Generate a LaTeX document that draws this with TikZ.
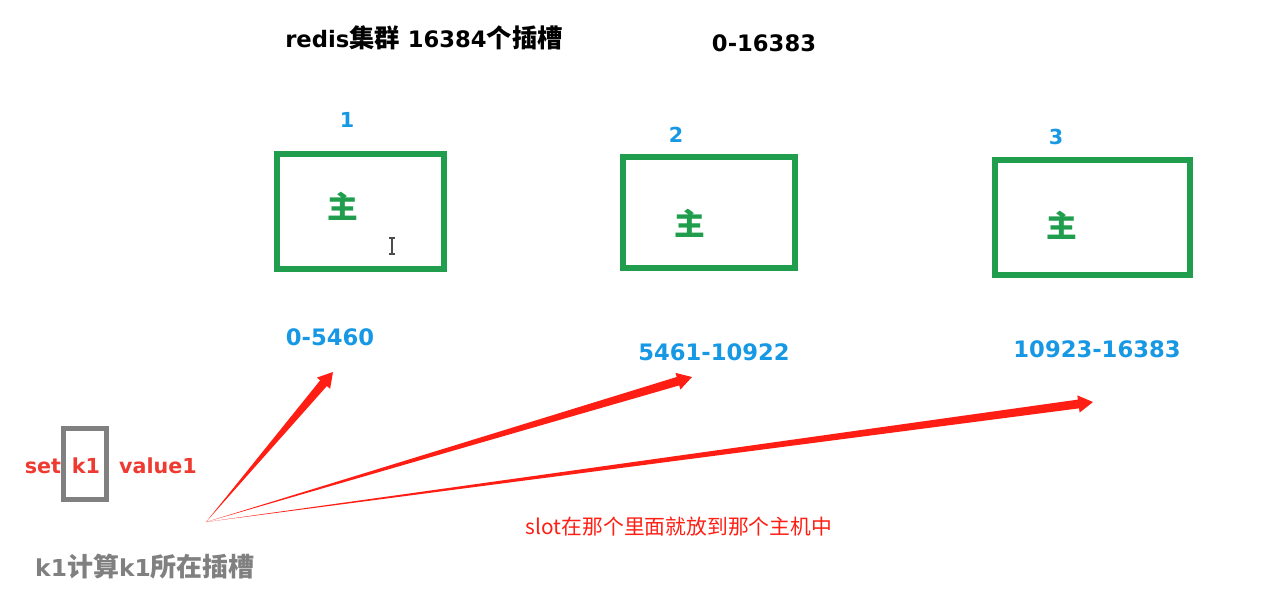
\documentclass[tikz,border=0pt]{standalone}
\usepackage{fontspec}
\setmainfont{DejaVu Sans}
\newfontfamily\cjk{Noto Sans CJK SC}
\usetikzlibrary{calc}

\definecolor{slotblue}{RGB}{22,152,228}
\definecolor{mastergreen}{RGB}{32,158,78}
\definecolor{keyred}{RGB}{238,58,48}
\definecolor{arrowred}{RGB}{255,30,20}
\definecolor{keygray}{RGB}{128,128,128}

% tapered arrow from #1 to #2
\newcommand{\slotarrow}[2]{%
  \path ($(#2)!11pt!(#1)$) coordinate (hb);
  \fill[arrowred] (#1) -- ($(hb)!3.3pt!90:(#2)$) -- ($(hb)!6.5pt!90:(#2)$) -- (#2)
    -- ($(hb)!6.5pt!-90:(#2)$) -- ($(hb)!3.3pt!-90:(#2)$) -- cycle;}
\newcommand{\han}[1]{{\cjk\fontsize{19}{21}\selectfont #1}}

\begin{document}
\begin{tikzpicture}[x=0.75pt,y=-0.75pt,every node/.style={inner sep=0pt},
  bigtext/.style={font=\bfseries\fontsize{17}{20}\selectfont},
  slotrange/.style={bigtext,text=slotblue},
  numlabel/.style={font=\bfseries\fontsize{15.5}{18}\selectfont,text=slotblue},
  master node/.style={draw=mastergreen,line width=4.5pt},
  mastertext/.style={font=\cjk\bfseries\fontsize{23}{25}\selectfont,text=mastergreen},
  cmdtext/.style={font=\bfseries\fontsize{15.5}{18}\selectfont,text=keyred}]
  \useasboundingbox (0,0) rectangle (1278,608);

  \node[bigtext] (title) at (424,38) {redis\han{集群} 16384\han{个插槽}};
  \node[bigtext] (all) at (764,43) {0-16383};

  \node[numlabel] (n1) at (347,120) {1};
  \node[numlabel] (n2) at (676,135) {2};
  \node[numlabel] (n3) at (1056,137) {3};

  \node[master node,minimum width=125.25pt,minimum height=86.25pt] (m1) at (360.5,211.5) {};
  \node[master node,minimum width=129pt,minimum height=83.25pt] (m2) at (709,212.5) {};
  \node[master node,minimum width=146.25pt,minimum height=86.25pt] (m3) at (1092.5,217.5) {};
  \node[mastertext] (z1) at (343,206) {主};
  \node[mastertext] (z2) at (690,223) {主};
  \node[mastertext] (z3) at (1062,225) {主};

  % text cursor
  \draw[line width=0.9pt,black!70] (389,238) -- (395,238) (392,238) -- (392,254) (389,254) -- (395,254);

  \node[slotrange] (r1) at (330,337) {0-5460};
  \node[slotrange] (r2) at (714,352) {5461-10922};
  \node[slotrange] (r3) at (1097,349) {10923-16383};

  \node[draw=keygray,line width=3.75pt,minimum width=32.25pt,minimum height=53.25pt] (keybox) at (85,463.5) {};
  \node[cmdtext] (set) at (43,466) {set};
  \node[cmdtext] (key) at (86,466) {k1};
  \node[cmdtext] (val) at (158,466) {value1};

  \node[font=\bfseries\fontsize{17.5}{21}\selectfont,text=keygray] (calc) at (145,567) {k1\han{\fontsize{19.5}{21}\selectfont 计算}k1\han{\fontsize{19.5}{21}\selectfont 所在插槽}};

  \coordinate (src) at (206,522);
  \coordinate (t1) at (333,372);
  \coordinate (t2) at (692,377);
  \coordinate (t3) at (1093,402);
  \slotarrow{src}{t1}
  \slotarrow{src}{t2}
  \slotarrow{src}{t3}

  \node[font=\cjk\fontsize{15.6}{18}\selectfont,text=arrowred] (note) at (679,527) {slot在那个里面就放到那个主机中};
\end{tikzpicture}
\end{document}
